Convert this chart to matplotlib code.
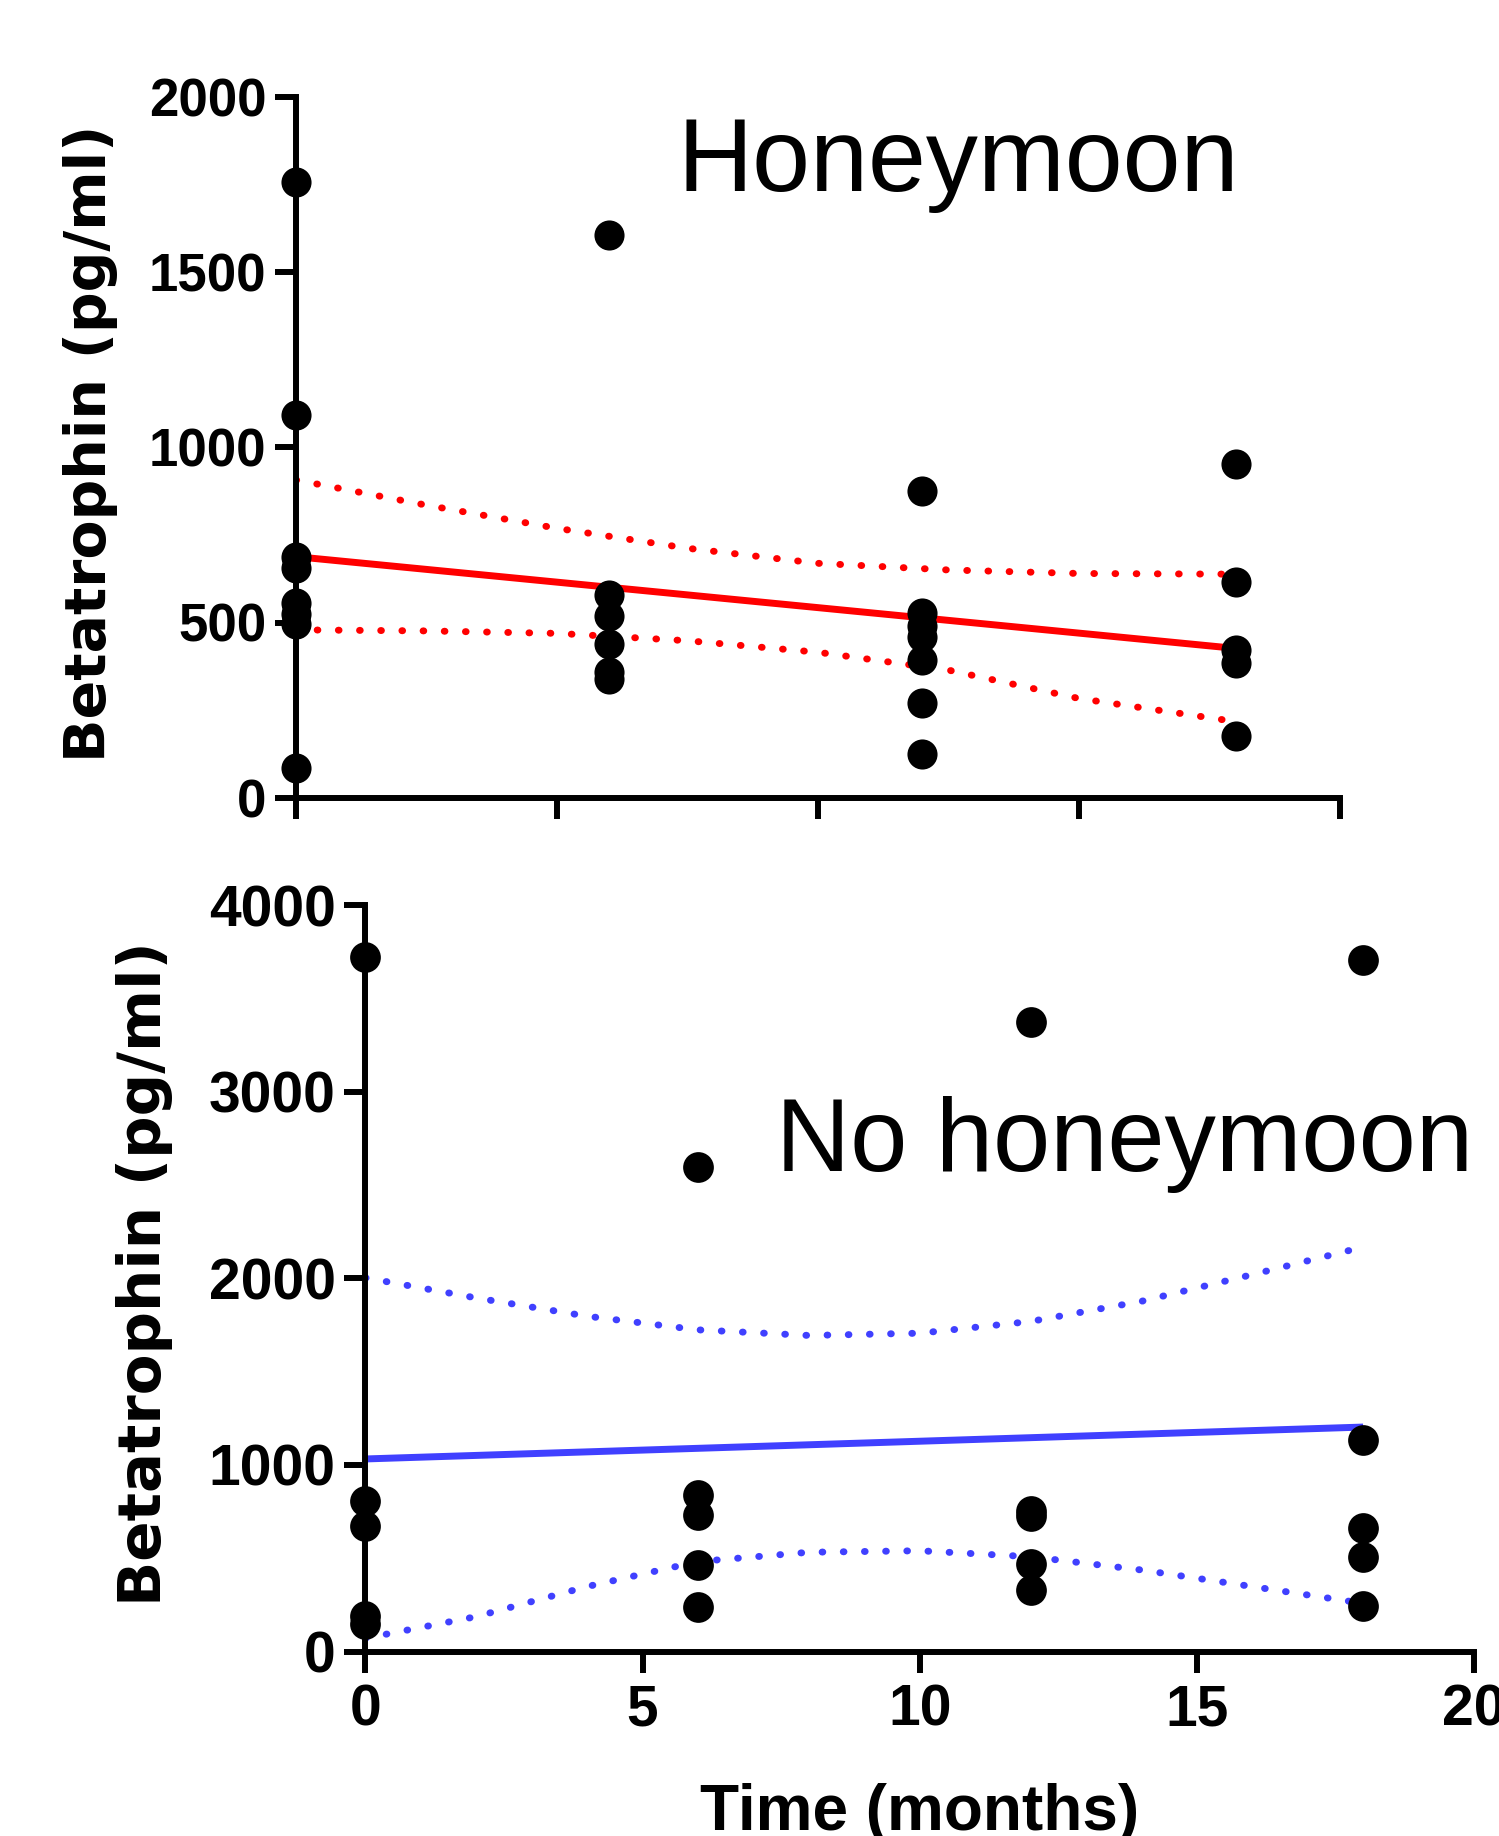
import matplotlib
matplotlib.use("Agg")
import matplotlib.pyplot as plt

# Honeymoon group: measurements per time point (months)
hm_time = [0] * 8 + [6] * 6 + [12] * 7 + [18] * 5
hm_values = [1757, 1092, 688, 655, 555, 525, 495, 84,
             1607, 578, 518, 438, 360, 340,
             876, 526, 490, 460, 393, 271, 124,
             952, 616, 421, 383, 177]
hm_fit_x = [0, 18]
hm_fit_y = [688, 426]
hm_band_x = [0, 2.5, 5, 7.5, 10, 12.5, 15, 18]
hm_band_upper = [907, 835, 769, 712, 669, 650, 640, 638]
hm_band_lower = [479, 476, 469, 448, 415, 364, 283, 217]

# No honeymoon group
nh_time = [0] * 5 + [6] * 5 + [12] * 5 + [18] * 5
nh_values = [3725, 808, 673, 190, 150,
             2595, 839, 730, 462, 238,
             3372, 755, 725, 470, 331,
             3705, 1136, 664, 506, 245]
nh_fit_x = [0, 18]
nh_fit_y = [1032, 1203]
nh_band_x = [0, 2, 4, 6, 8, 10, 12, 14, 16, 18]
nh_band_upper = [2003, 1895, 1797, 1724, 1694, 1706, 1769, 1877, 2020, 2168]
nh_band_lower = [71, 187, 348, 482, 532, 540, 508, 437, 348, 258]

x_ticks = [0, 5, 10, 15, 20]
hm_yticks = [0, 500, 1000, 1500, 2000]
nh_yticks = [0, 1000, 2000, 3000, 4000]

W, H = 1499, 1836
fig = plt.figure(figsize=(W / 100, H / 100), dpi=100)

ax1 = fig.add_axes([296 / W, 1 - 797.6 / H, 1044 / W, 700.4 / H])
ax2 = fig.add_axes([365.4 / W, 1 - 1651.5 / H, 1108.6 / W, 746.3 / H])

red = "#FF0000"
blue = "#4040FF"
dots = (0, (0.1, 2.95))


def style_axis(ax, yticks, ylim, tick_size, show_xlabels):
    ax.set_xlim(0, 20)
    ax.set_ylim(*ylim)
    ax.set_xticks(x_ticks)
    ax.set_yticks(yticks)
    for side in ["top", "right"]:
        ax.spines[side].set_visible(False)
    for side in ["left", "bottom"]:
        ax.spines[side].set_linewidth(4.3)
    ax.tick_params(axis="both", length=15, width=4.3, direction="out")
    ax.tick_params(axis="y", pad=6.5)
    ax.tick_params(axis="x", pad=8)
    for lbl in ax.get_yticklabels() + ax.get_xticklabels():
        lbl.set_fontfamily("Liberation Sans")
        lbl.set_fontweight("bold")
        lbl.set_fontsize(tick_size)
    if not show_xlabels:
        ax.set_xticklabels([])


# top panel
ax1.plot(hm_fit_x, hm_fit_y, color=red, lw=5, solid_capstyle="butt", zorder=2)
ax1.plot(hm_band_x, hm_band_upper, color=red, lw=5, linestyle=dots,
         dash_capstyle="round", zorder=2)
ax1.plot(hm_band_x, hm_band_lower, color=red, lw=5, linestyle=dots,
         dash_capstyle="round", zorder=2)
ax1.scatter(hm_time, hm_values, s=470, color="black", zorder=3, clip_on=False,
            linewidths=0)
style_axis(ax1, hm_yticks, (0, 2000), 38, False)

# bottom panel
ax2.plot(nh_fit_x, nh_fit_y, color=blue, lw=5, solid_capstyle="butt", zorder=2)
ax2.plot(nh_band_x, nh_band_upper, color=blue, lw=5, linestyle=dots,
         dash_capstyle="round", zorder=2)
ax2.plot(nh_band_x, nh_band_lower, color=blue, lw=5, linestyle=dots,
         dash_capstyle="round", zorder=2)
ax2.scatter(nh_time, nh_values, s=490, color="black", zorder=3, clip_on=False,
            linewidths=0)
style_axis(ax2, nh_yticks, (0, 4000), 41, True)

# labels
fig.text(91 / W, 1 - 443 / H, "Betatrophin (pg/ml)", rotation=90,
         ha="center", va="center", fontsize=41, fontweight="bold",
         family="DejaVu Sans")
fig.text(145 / W, 1 - 1274 / H, "Betatrophin (pg/ml)", rotation=90,
         ha="center", va="center", fontsize=42.8, fontweight="bold",
         family="DejaVu Sans")
fig.text(920 / W, 1 - 1830 / H, "Time (months)", ha="center", va="baseline",
         fontsize=46, fontweight="bold", family="Liberation Sans")

fig.text(677 / W, 1 - 191 / H, "Honeymoon", ha="left", va="baseline",
         fontsize=75, family="Liberation Sans")
fig.text(776 / W, 1 - 1171 / H, "No honeymoon", ha="left", va="baseline",
         fontsize=74, family="Liberation Sans")

fig.savefig("out.png", dpi=100)
